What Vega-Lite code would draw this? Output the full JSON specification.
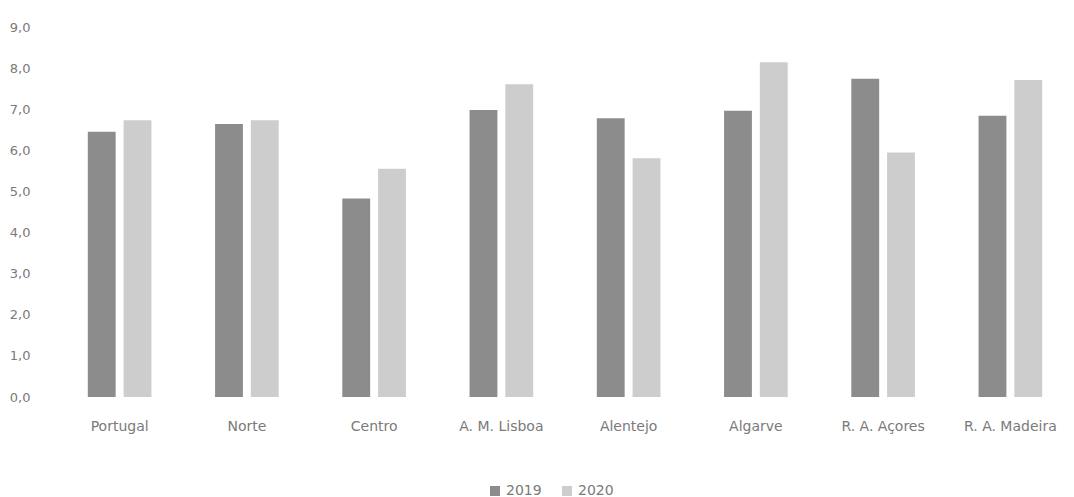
{
  "$schema": "https://vega.github.io/schema/vega-lite/v6.json",
  "width": 1018,
  "height": 370,
  "autosize": {"type": "none"},
  "padding": {"left": 56, "top": 27, "right": 0, "bottom": 100},
  "background": "white",
  "config": {
    "view": {"stroke": null},
    "font": "DejaVu Sans",
    "axis": {"labelColor": "#7a7a7a", "labelFont": "DejaVu Sans"}
  },
  "data": {
    "values": [
      {"region": "Portugal", "ano": "2019", "valor": 6.45},
      {"region": "Portugal", "ano": "2020", "valor": 6.73},
      {"region": "Norte", "ano": "2019", "valor": 6.64},
      {"region": "Norte", "ano": "2020", "valor": 6.73},
      {"region": "Centro", "ano": "2019", "valor": 4.83},
      {"region": "Centro", "ano": "2020", "valor": 5.55},
      {"region": "A. M. Lisboa", "ano": "2019", "valor": 6.98},
      {"region": "A. M. Lisboa", "ano": "2020", "valor": 7.61},
      {"region": "Alentejo", "ano": "2019", "valor": 6.78},
      {"region": "Alentejo", "ano": "2020", "valor": 5.81},
      {"region": "Algarve", "ano": "2019", "valor": 6.96},
      {"region": "Algarve", "ano": "2020", "valor": 8.14},
      {"region": "R. A. Açores", "ano": "2019", "valor": 7.74},
      {"region": "R. A. Açores", "ano": "2020", "valor": 5.95},
      {"region": "R. A. Madeira", "ano": "2019", "valor": 6.84},
      {"region": "R. A. Madeira", "ano": "2020", "valor": 7.71}
    ]
  },
  "mark": {"type": "bar"},
  "encoding": {
    "x": {
      "field": "region",
      "type": "nominal",
      "sort": null,
      "scale": {"paddingInner": 0.5, "paddingOuter": 0.25},
      "axis": {"title": null, "labelAngle": 0, "ticks": false, "domain": false, "labelPadding": 22, "labelFontSize": 14}
    },
    "xOffset": {
      "field": "ano",
      "type": "nominal",
      "scale": {"paddingInner": 0.222, "paddingOuter": 0}
    },
    "y": {
      "field": "valor",
      "type": "quantitative",
      "scale": {"domain": [0, 9], "nice": false},
      "axis": {
        "title": null,
        "grid": false,
        "domain": false,
        "ticks": false,
        "tickSize": 0,
        "values": [0, 1, 2, 3, 4, 5, 6, 7, 8, 9],
        "labelExpr": "replace(format(datum.value, '.1f'), '.', ',')",
        "labelPadding": 26,
        "labelFontSize": 13
      }
    },
    "color": {
      "field": "ano",
      "type": "nominal",
      "scale": {"domain": ["2019", "2020"], "range": ["#8c8c8c", "#cdcdcd"]},
      "legend": {
        "title": null,
        "orient": "none",
        "direction": "horizontal",
        "legendX": 432,
        "legendY": 457,
        "symbolType": "square",
        "symbolSize": 100,
        "labelFontSize": 14,
        "labelColor": "#7a7a7a",
        "labelOffset": 4,
        "columnPadding": 18
      }
    }
  }
}
